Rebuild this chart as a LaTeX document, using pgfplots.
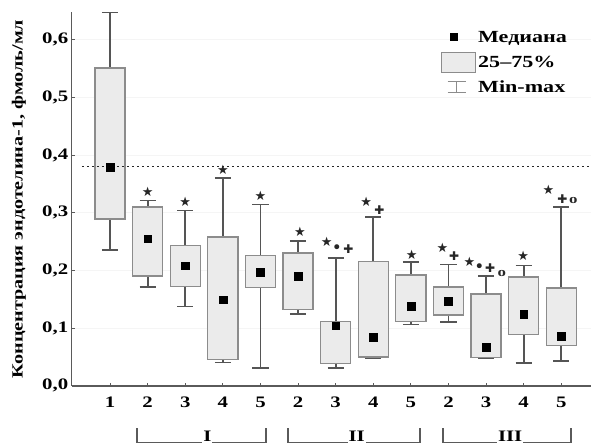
\documentclass[border=0pt]{standalone}
\usepackage{fontspec}
\setmainfont{Liberation Serif}[FakeStretch=1.3]
\newfontfamily\sym{DejaVu Sans}
\usepackage{pgfplots}
\pgfplotsset{compat=1.18}
\usepgfplotslibrary{statistics}
\definecolor{boxfill}{HTML}{EBEBEB}
\definecolor{boxedge}{HTML}{8C8C8C}
\definecolor{whisk}{HTML}{555555}
\definecolor{axcol}{HTML}{5A5A5A}
\newcommand{\bx}[6]{\addplot[forget plot, draw=whisk, line width=1.7pt, boxplot prepared={draw direction=y, draw position=#1, lower whisker=#2, lower quartile=#3, median=#4, upper quartile=#5, upper whisker=#6}] coordinates {};}
\begin{document}
\begin{tikzpicture}
\begin{axis}[
  name=ax, at={(0,0)}, anchor=south west,
  scale only axis, width=519.3pt, height=373.3pt,
  xmin=-1.02, xmax=12.79, ymin=0, ymax=0.6473,
  axis lines=left, axis line style={axcol, line width=1.6pt, -},
  clip=false,
  xtick={0,1,2,3,4,5,6,7,8,9,10,11,12},
  xticklabels={1,2,3,4,5,2,3,4,5,2,3,4,5},
  ytick={0,0.1,0.2,0.3,0.4,0.5,0.6},
  yticklabels={{0,0},{0,1},{0,2},{0,3},{0,4},{0,5},{0,6}},
  tick align=inside, major tick length=3pt,
  tick style={axcol, line width=0.8pt},
  ticklabel style={font=\bfseries\fontsize{16}{18}\selectfont},
  xticklabel style={yshift=-8pt},
  ymajorgrids, grid style={gray!8, line width=0.8pt},
  every axis y label/.style={at={(axis description cs:-0.1015,0.5)}, rotate=90, anchor=center, font=\bfseries\fontsize{15.5}{17}\selectfont},
  ylabel={Концентрация эндотелина-1, фмоль/мл},
  boxplot/draw direction=y,
  boxplot/box extend=0.8,
  boxplot/whisker extend=0.43,
  boxplot/every box/.style={draw=boxedge, fill=boxfill, line width=1.3pt},
  boxplot/every whisker/.style={draw=whisk, line width=1.7pt},
  boxplot/every median/.style={draw=none},
  legend style={at={(axis cs:8.8,0.622)}, anchor=north west, draw=none, fill=none, inner sep=0pt, row sep=4.5pt, font=\bfseries\fontsize{17}{19}\selectfont, cells={anchor=west}},
  legend cell align=left,
]
\addlegendimage{legend image code/.code={\path[draw=none,fill=none] (0pt,-10pt) rectangle (34pt,10pt); \fill[black] (9pt,-3.5pt) rectangle (16pt,3.5pt);}}
\addlegendentry{Медиана}
\addlegendimage{legend image code/.code={\draw[boxedge, fill=boxfill, line width=1pt] (0pt,-10pt) rectangle (34pt,10pt);}}
\addlegendentry{25--75\%}
\addlegendimage{legend image code/.code={\path[draw=none,fill=none] (0pt,-10pt) rectangle (34pt,10pt); \draw[boxedge, line width=1pt] (6pt,5.5pt) -- (24pt,5.5pt) (15pt,5.5pt) -- (15pt,-5.5pt) (6pt,-5.5pt) -- (24pt,-5.5pt);}}
\addlegendentry{Min-max}

\bx{0}{0.235}{0.289}{0.379}{0.551}{0.647}
\bx{1}{0.171}{0.190}{0.255}{0.310}{0.321}
\bx{2}{0.1375}{0.172}{0.208}{0.243}{0.304}
\bx{3}{0.040}{0.046}{0.149}{0.258}{0.360}
\bx{4}{0.031}{0.1705}{0.1965}{0.226}{0.314}
\bx{5}{0.124}{0.132}{0.190}{0.230}{0.251}
\bx{6}{0.031}{0.039}{0.104}{0.1115}{0.221}
\bx{7}{0.048}{0.0497}{0.0838}{0.2156}{0.2925}
\bx{8}{0.106}{0.1115}{0.1375}{0.192}{0.214}
\bx{9}{0.110}{0.1226}{0.146}{0.171}{0.210}
\bx{10}{0.048}{0.049}{0.067}{0.159}{0.190}
\bx{11}{0.039}{0.0884}{0.1243}{0.1885}{0.2086}
\bx{12}{0.0434}{0.070}{0.0855}{0.1694}{0.310}

\addplot[forget plot, black!85, line width=1.6pt, dash pattern=on 2.5pt off 2.5pt] coordinates {(-0.75,0.38) (12.79,0.38)};

\addplot[forget plot, only marks, mark=square*, mark size=3.9pt, black] coordinates {
(0,0.379) (1,0.255) (2,0.208) (3,0.149) (4,0.1965) (5,0.190) (6,0.104)
(7,0.0838) (8,0.1375) (9,0.146) (10,0.067) (11,0.1243) (12,0.0855)};

% significance symbols
\addplot[forget plot, draw=none, mark=none, nodes near coords, point meta=explicit symbolic, nodes near coords align=center,
  every node near coord/.append style={inner sep=0pt, font=\sym\fontsize{13}{13}\selectfont, text=black!85}]
 coordinates {(1,0.336)[★] (2,0.3185)[★] (3,0.3745)[★] (4,0.3295)[★] (5.05,0.2665)[★]
 (5.76,0.250)[★] (6.81,0.318)[★] (8.02,0.227)[★] (8.84,0.239)[★] (9.56,0.2155)[★]
 (10.99,0.2254)[★] (11.66,0.340)[★]};
\addplot[forget plot, draw=none, mark=none, nodes near coords, point meta=explicit symbolic, nodes near coords align=center,
  every node near coord/.append style={inner sep=0pt, font=\sym\fontsize{17}{17}\selectfont, text=black!85}]
 coordinates {(6.03,0.2376)[•] (9.82,0.204)[•]};
\addplot[forget plot, draw=none, mark=none, nodes near coords, point meta=explicit symbolic, nodes near coords align=center,
  every node near coord/.append style={inner sep=0pt, font=\sym\fontsize{12}{12}\selectfont, text=black!85}]
 coordinates {(6.34,0.2376)[✚] (7.16,0.304)[✚] (9.15,0.2254)[✚] (10.11,0.204)[✚] (12.03,0.3237)[✚]};
\addplot[forget plot, draw=none, mark=none, nodes near coords, point meta=explicit symbolic, nodes near coords align=center,
  every node near coord/.append style={inner sep=0pt, font=\bfseries\fontsize{13}{13}\selectfont, text=black!85}]
 coordinates {(10.42,0.1954)[o] (12.32,0.321)[o]};

% group brackets
\draw[axcol, line width=1.3pt] (axis cs:0.726,-0.0988) -- (axis cs:4.14,-0.0988);
\draw[axcol, line width=1.3pt] (axis cs:4.73,-0.0988) -- (axis cs:8.245,-0.0988);
\draw[axcol, line width=1.3pt] (axis cs:8.85,-0.0988) -- (axis cs:12.26,-0.0988);
\draw[axcol, line width=2.2pt] (axis cs:0.726,-0.074) -- (axis cs:0.726,-0.1) (axis cs:4.14,-0.074) -- (axis cs:4.14,-0.1)
  (axis cs:4.73,-0.074) -- (axis cs:4.73,-0.1) (axis cs:8.245,-0.074) -- (axis cs:8.245,-0.1)
  (axis cs:8.85,-0.074) -- (axis cs:8.85,-0.1) (axis cs:12.26,-0.074) -- (axis cs:12.26,-0.1);
\node[fill=white, inner sep=1pt, font=\bfseries\fontsize{16}{18}\selectfont] at (axis cs:2.59,-0.088) {I};
\node[fill=white, inner sep=1pt, font=\bfseries\fontsize{16}{18}\selectfont] at (axis cs:6.56,-0.088) {II};
\node[fill=white, inner sep=1pt, font=\bfseries\fontsize{16}{18}\selectfont] at (axis cs:10.64,-0.088) {III};
\end{axis}
\pgfresetboundingbox
\useasboundingbox (-71.7pt,-59pt) rectangle (519.3pt,385.7pt);
\end{tikzpicture}
\end{document}
